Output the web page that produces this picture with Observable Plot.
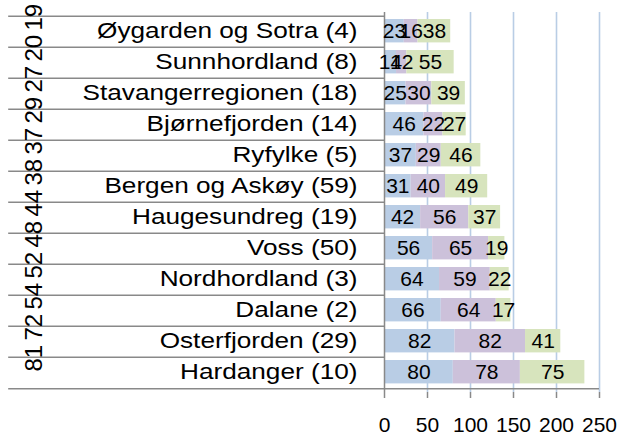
<!DOCTYPE html>
<html>
<head>
<meta charset="utf-8">
<script src="https://cdn.jsdelivr.net/npm/d3@7"></script>
<script src="https://cdn.jsdelivr.net/npm/@observablehq/plot@0.6"></script>
<style>
html, body { margin: 0; padding: 0; background: #fff; }
#chart svg { display: block; }
</style>
</head>
<body>
<div id="chart"></div>
<script>
const names = [
  "Øygarden og Sotra (4)",
  "Sunnhordland (8)",
  "Stavangerregionen (18)",
  "Bjørnefjorden (14)",
  "Ryfylke (5)",
  "Bergen og Askøy (59)",
  "Haugesundreg (19)",
  "Voss (50)",
  "Nordhordland (3)",
  "Dalane (2)",
  "Osterfjorden (29)",
  "Hardanger (10)"
];
const outerLabels = ["19", "20", "27", "29", "37", "38", "44", "48", "52", "54", "72", "81"];
const series1 = [23, 14, 25, 46, 37, 31, 42, 56, 64, 66, 82, 80];
const series2 = [16, 12, 30, 22, 29, 40, 56, 65, 59, 64, 82, 78];
const series3 = [38, 55, 39, 27, 46, 49, 37, 19, 22, 17, 41, 75];
const seriesNames = ["s1", "s2", "s3"];
const xTicks = [0, 50, 100, 150, 200, 250];

const data = names.flatMap((n, i) => [
  {name: n, series: "s1", value: series1[i]},
  {name: n, series: "s2", value: series2[i]},
  {name: n, series: "s3", value: series3[i]}
]);

const W = 619, H = 432, mT = 12, mB = 40, mL = 384, mR = 20;
const bw = (H - mT - mB) / names.length;
const gray = "#898989";

const chart = Plot.plot({
  width: W,
  height: H,
  marginLeft: mL,
  marginRight: mR,
  marginTop: mT,
  marginBottom: mB,
  style: {fontFamily: "'Liberation Sans', Arial, sans-serif", background: "white", color: "black"},
  x: {domain: [0, 250], axis: null},
  y: {domain: names, padding: 0, axis: null},
  color: {domain: seriesNames, range: ["#b9cde5", "#ccc1da", "#d7e4bd"]},
  marks: [
    Plot.gridX({ticks: xTicks.slice(1), stroke: "#b9cde5", strokeOpacity: 1, strokeWidth: 1.6}),
    Plot.barX(data, {x: "value", y: "name", fill: "series", insetTop: 3, insetBottom: 4.6}),
    Plot.ruleY(names, {y: d => d, x1: -437, x2: 0, dy: -bw / 2, stroke: gray, strokeWidth: 1.5}),
    Plot.ruleY([names[names.length - 1]], {y: d => d, x1: -437, x2: 250, dy: bw / 2, stroke: gray, strokeWidth: 1.5}),
    Plot.ruleX([0], {stroke: gray, strokeWidth: 1.5}),
    Plot.axisX({ticks: xTicks, label: null, tickSize: 6, tickPadding: 19, fontSize: 21, stroke: gray, strokeWidth: 1.5, fill: "black", tickFormat: d => String(d)}),
    Plot.text(names, {y: d => d, text: d => d, frameAnchor: "left", textAnchor: "end", dx: -27, dy: -1.5, fontSize: 22, fill: "black"}),
    Plot.text(names, {y: d => d, text: (d, i) => outerLabels[i], frameAnchor: "left", dx: 33.5 - mL, dy: -1.5, rotate: -90, fontSize: 24, fill: "black"}),
    Plot.text(data, Plot.stackX({x: "value", y: "name", z: "series", text: "value", fontSize: 21, fill: "black", dy: -1}))
  ]
});

// Reproduce the horizontally stretched look of the category labels
const groups = chart.querySelectorAll('g[aria-label="text"]');
function stretch(g, s) {
  if (!g) return;
  g.querySelectorAll("text").forEach(t => {
    const tr = t.getAttribute("transform");
    if (tr && /translate\(/.test(tr)) {
      t.setAttribute("transform", tr.replace(/(translate\([^)]*\))/, `$1 scale(${s},1)`));
    } else {
      const x = +(t.getAttribute("x") || 0), y = +(t.getAttribute("y") || 0);
      t.setAttribute("x", 0); t.setAttribute("y", 0);
      t.setAttribute("transform", `translate(${x},${y}) scale(${s},1)` + (tr ? " " + tr : ""));
    }
  });
}
stretch(groups[0], 1.19);

document.getElementById("chart").append(chart);
</script>
</body>
</html>
